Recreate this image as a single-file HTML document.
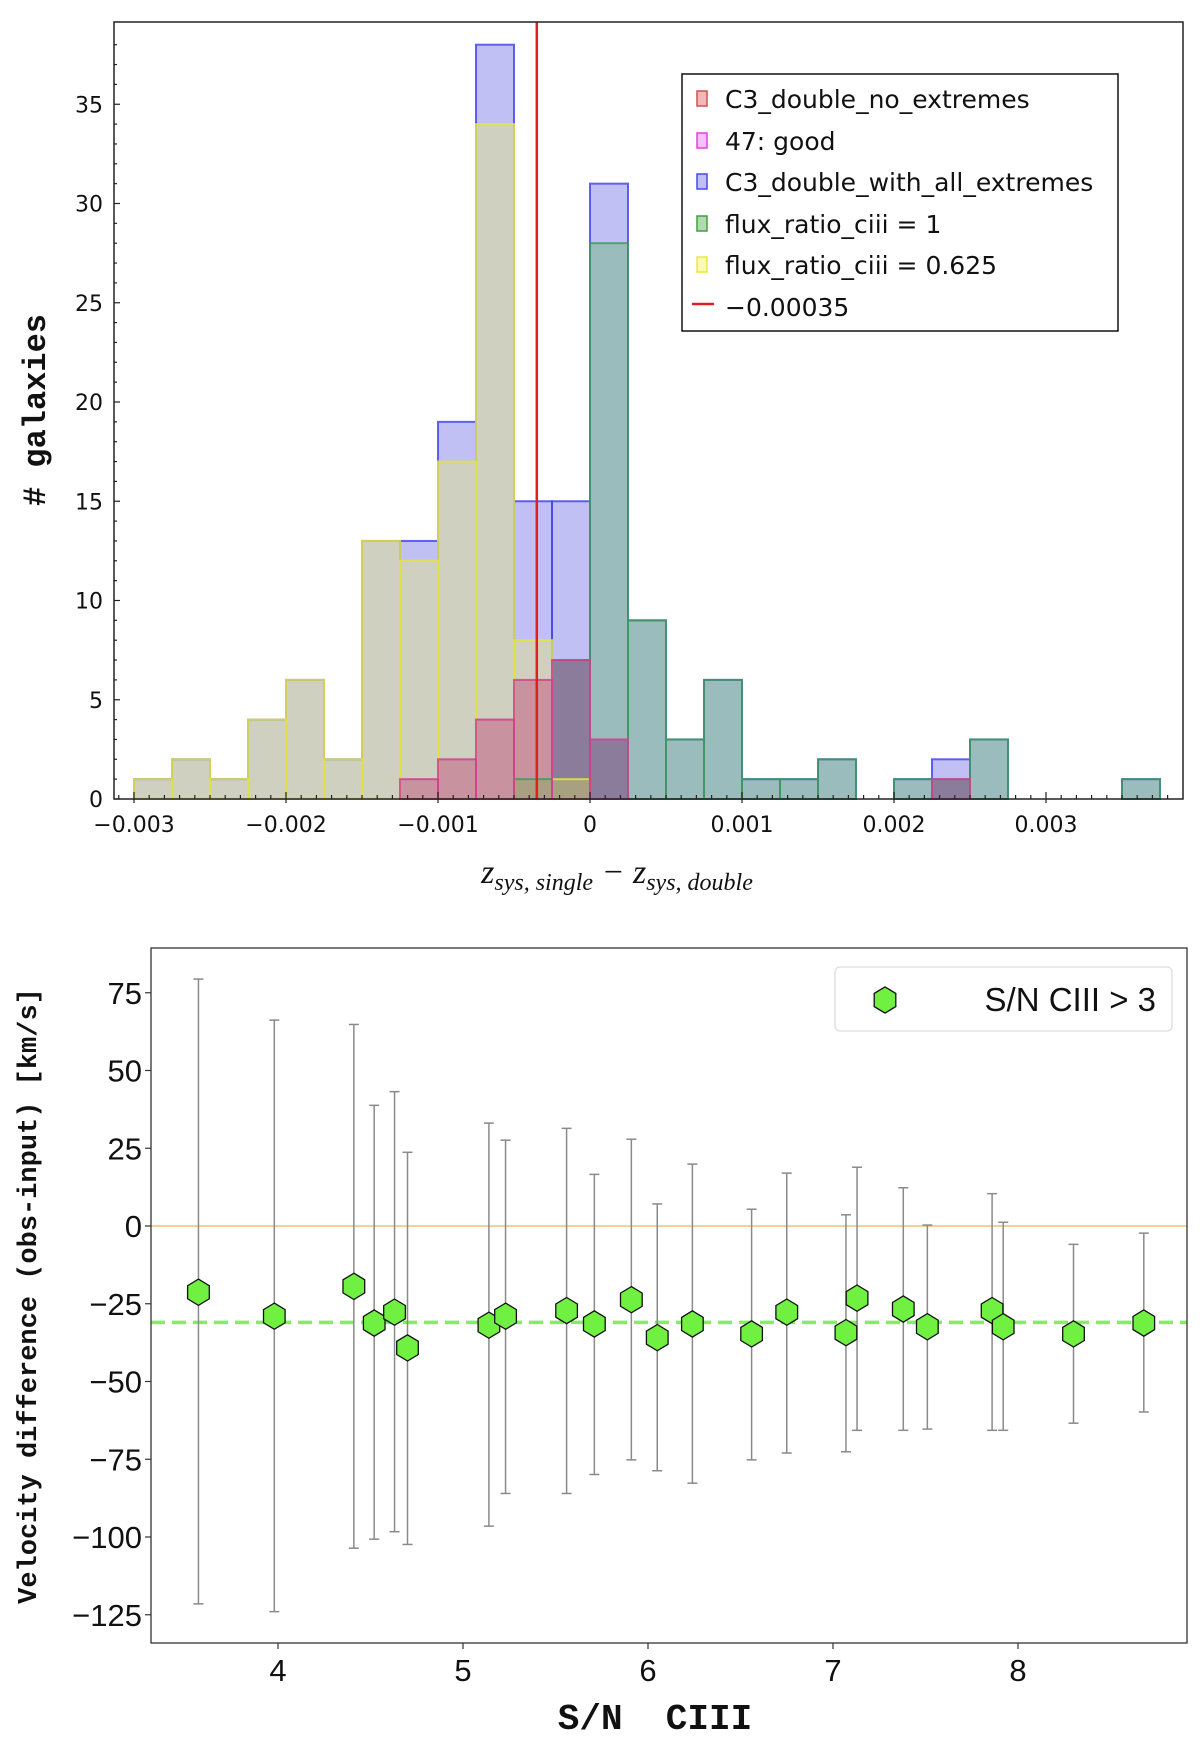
<!DOCTYPE html>
<html><head><meta charset="utf-8">
<style>
html,body{margin:0;padding:0;background:#fff;}
svg{display:block;}
</style></head>
<body>
<svg id="fig" width="1200" height="1740" viewBox="0 0 1200 1740" xmlns="http://www.w3.org/2000/svg">
<g id="topPanel"></g>
<g id="botPanel"></g>
</svg>
<script>
// ---------- Histogram data ----------
const binStart = -0.003;
const binWidth = 0.00025;
const countsAllExtremes = [1,2,1,4,6,2,13,13,19,38,15,15,31,9,3,6,1,1,2,0,1,2,3,0,0,0,1];
const countsFlux0625    = [1,2,1,4,6,2,13,12,17,34,8,1,0,0,0,0,0,0,0,0,0,0,0,0,0,0,0];
const countsFlux1       = [0,0,0,0,0,0,0,0,0,0,1,7,28,9,3,6,1,1,2,0,1,1,3,0,0,0,1];
const countsNoExtremes  = [0,0,0,0,0,0,0,1,2,4,6,7,3,0,0,0,0,0,0,0,0,1,0,0,0,0,0];
const histXTicks = [-0.003,-0.002,-0.001,0,0.001,0.002,0.003];
const histXTickLabels = ["\u22120.003","\u22120.002","\u22120.001","0","0.001","0.002","0.003"];
const histYTicks = [0,5,10,15,20,25,30,35];
const cutValue = -0.00035;
const legendLabels = ["C3_double_no_extremes","47: good","C3_double_with_all_extremes","flux_ratio_ciii = 1","flux_ratio_ciii = 0.625","\u22120.00035"];

// ---------- Scatter data ----------
const snr   = [3.57,3.98,4.41,4.52,4.63,4.70,5.14,5.23,5.56,5.71,5.91,6.05,6.24,6.56,6.75,7.07,7.13,7.38,7.51,7.86,7.92,8.30,8.68];
const vdiff = [-21.3,-29,-19.4,-31.2,-27.7,-39.2,-31.9,-29,-27.2,-31.5,-23.7,-35.9,-31.5,-34.7,-27.7,-34.3,-23.2,-26.7,-32.4,-27.2,-32.4,-34.7,-31.2];
const errHi = [79.4,66.2,64.8,38.8,43.2,23.7,33.1,27.6,31.4,16.6,27.9,7.1,19.9,5.4,17,3.6,18.9,12.3,0.3,10.4,1.2,-5.9,-2.3];
const errLo = [-121.5,-124,-103.6,-100.7,-98.3,-102.4,-96.5,-86,-86,-79.9,-75.2,-78.7,-82.7,-75.2,-73,-72.6,-65.7,-65.7,-65.3,-65.7,-65.7,-63.4,-59.8];
const meanV = -31;
const velYTicks = [-125,-100,-75,-50,-25,0,25,50,75];
const velXTicks = [4,5,6,7,8];

const NS="http://www.w3.org/2000/svg";
function mk(parent, tag, attrs, text){
  const e=document.createElementNS(NS,tag);
  for(const k in attrs) e.setAttribute(k,attrs[k]);
  if(text!==undefined) e.textContent=text;
  parent.appendChild(e); return e;
}
const SANS='"DejaVu Sans","Liberation Sans",sans-serif';

// ===== TOP PANEL =====
const topG=document.getElementById('topPanel');
const hx0=114,hx1=1183,hy0=22,hy1=799;
const hxs=v=>590+v*152000;
const hys=v=>799-v*19.85;

const nb=countsAllExtremes.length;
for(let i=0;i<nb;i++){
  const a=binStart+i*binWidth, b=a+binWidth;
  const B=countsAllExtremes[i],Y=countsFlux0625[i],G=countsFlux1[i],R=countsNoExtremes[i];
  const lv=[0,B,Y,G,R].filter((v,j,arr)=>arr.indexOf(v)===j).sort((p,q)=>p-q);
  for(let k=0;k<lv.length-1;k++){
    const lo=lv[k],hi=lv[k+1],m=(lo+hi)/2;
    const inB=m<B,inY=m<Y,inG=m<G,inR=m<R;
    let c=null;
    if(inG&&inY) c='#a99f81';
    else if(inR&&inG) c='#8b7c9c';
    else if(inR) c='#c8929f';
    else if(inG) c='#9bbcbc';
    else if(inY) c='#d0d0c0';
    else if(inB) c='#c0c0f5';
    if(!c) continue;
    const r=mk(topG,'rect',{x:hxs(a),y:hys(hi),width:hxs(b)-hxs(a),height:hys(lo)-hys(hi),fill:c});
    
    
  }
}
const outlineSets=[[countsAllExtremes,'#4848f0'],[countsFlux1,'#3f9a5f'],[countsFlux0625,'#e3e340'],[countsNoExtremes,'#d0408f']];
outlineSets.forEach(([arr,col])=>{
  for(let i=0;i<nb;i++){
    if(arr[i]<=0) continue;
    const a=binStart+i*binWidth,b=a+binWidth;
    const r=mk(topG,'rect',{x:hxs(a),y:hys(arr[i]),width:hxs(b)-hxs(a),height:hys(0)-hys(arr[i]),fill:'none',stroke:col,'stroke-width':2,'stroke-opacity':0.85});
    
    
  }
});
const cl=mk(topG,'line',{x1:hxs(cutValue),x2:hxs(cutValue),y1:hy0,y2:hy1,stroke:'#e02020','stroke-width':2.5});


const hf=mk(topG,'rect',{x:hx0,y:hy0,width:hx1-hx0,height:hy1-hy0,fill:'none',stroke:'#222','stroke-width':1.5});


for(let v=0;v<=38;v++){
  const major=v%5===0;
  mk(topG,'line',{x1:hx0,x2:hx0+(major?6:3),y1:hys(v),y2:hys(v),stroke:'#222','stroke-width':1.2});
}
histYTicks.forEach(v=>{
  const t=mk(topG,'text',{x:103,y:hys(v)+8,'text-anchor':'end','font-family':SANS,'font-size':22,fill:'#111'},String(v));
  
  
});
for(let k=-31;k<=38;k++){
  const v=k*0.0001,x=hxs(v);
  if(x<hx0||x>hx1) continue;
  const major=k%10===0;
  mk(topG,'line',{x1:x,x2:x,y1:hy1,y2:hy1-(major?7:4),stroke:'#222','stroke-width':1.2});
  if(major) mk(topG,'line',{x1:x,x2:x,y1:hy1,y2:hy1+4,stroke:'#222','stroke-width':1.2});
}
histXTicks.forEach((v,i)=>{
  const t=mk(topG,'text',{x:hxs(v),y:832,'text-anchor':'middle','font-family':SANS,'font-size':22,fill:'#111'},histXTickLabels[i]);
  
  
});
let t=mk(topG,'text',{x:0,y:0,transform:'translate(45,410) rotate(-90)','text-anchor':'middle','font-family':'"Liberation Mono",monospace','font-size':32,'font-weight':'bold',fill:'#111'},'# galaxies');


t=mk(topG,'text',{x:617,y:883,'text-anchor':'middle','font-family':'"Liberation Serif",serif','font-size':34,'font-style':'italic',fill:'#111'});


mk(t,'tspan',{},'z');
mk(t,'tspan',{'font-size':24,dy:7},'sys, single');
mk(t,'tspan',{dy:-7},' \u2212 z');
mk(t,'tspan',{'font-size':24,dy:7},'sys, double');
const lg=mk(topG,'g',{});


mk(lg,'rect',{x:682,y:74,width:436,height:257,fill:'#fff',stroke:'#111','stroke-width':1.5});
const legCols=[['#f0b8b8','#d05050'],['#f8c0f8','#e040e0'],['#c0c0f5','#4848f0'],['#b0dab0','#40a040'],['#fafab0','#e8e840']];
const legY=[108,150,191,233,274,316];
legendLabels.forEach((lab,i)=>{
  if(i<5) mk(lg,'rect',{x:697,y:legY[i]-17,width:10,height:15,fill:legCols[i][0],stroke:legCols[i][1],'stroke-width':1.5});
  else mk(lg,'line',{x1:692,x2:714,y1:legY[i]-12,y2:legY[i]-12,stroke:'#e02020','stroke-width':2.5});
  const tt=mk(lg,'text',{x:725,y:legY[i],'font-family':SANS,'font-size':25,fill:'#111'},lab);
  
  
});

// ===== BOTTOM PANEL =====
const botG=document.getElementById('botPanel');
const bx0=151,bx1=1187,by0=948,by1=1643;
const bxs=v=>278+(v-4)*185;
const bys=v=>1226-v*3.11;
let l=mk(botG,'line',{x1:bx0,x2:bx1,y1:bys(0),y2:bys(0),stroke:'#f5c070','stroke-width':1.5});


l=mk(botG,'line',{x1:bx0,x2:bx1,y1:bys(meanV),y2:bys(meanV),stroke:'#80f060','stroke-width':3.5,'stroke-dasharray':'14,7'});


snr.forEach((x,i)=>{
  const g=mk(botG,'g',{stroke:'#8a8a8a','stroke-width':1.5});
  
  
  const px=bxs(x);
  mk(g,'line',{x1:px,x2:px,y1:bys(errHi[i]),y2:bys(errLo[i])});
  mk(g,'line',{x1:px-5,x2:px+5,y1:bys(errHi[i]),y2:bys(errHi[i])});
  mk(g,'line',{x1:px-5,x2:px+5,y1:bys(errLo[i]),y2:bys(errLo[i])});
});
function hexPts(cx,cy,r){
  let p=[];for(let k=0;k<6;k++){const a=Math.PI/180*(60*k-90);p.push((cx+r*Math.cos(a)).toFixed(1)+','+(cy+r*1.05*Math.sin(a)).toFixed(1));}
  return p.join(' ');
}
snr.forEach((x,i)=>{
  const h=mk(botG,'polygon',{points:hexPts(bxs(x),bys(vdiff[i]),12.5),fill:'#70f040',stroke:'#111','stroke-width':1.3});
  
  
});
const bf=mk(botG,'rect',{x:bx0,y:by0,width:bx1-bx0,height:by1-by0,fill:'none',stroke:'#333','stroke-width':1.3});


velYTicks.forEach(v=>{
  mk(botG,'line',{x1:bx0-6,x2:bx0,y1:bys(v),y2:bys(v),stroke:'#333','stroke-width':1.2});
  const tt=mk(botG,'text',{x:142,y:bys(v)+11,'text-anchor':'end','font-family':'"Liberation Sans Narrow","Liberation Sans",sans-serif','font-size':31,fill:'#111'},v<0?'\u2212'+(-v):String(v));
  
  
});
velXTicks.forEach(v=>{
  mk(botG,'line',{x1:bxs(v),x2:bxs(v),y1:by1,y2:by1+6,stroke:'#333','stroke-width':1.2});
  const tt=mk(botG,'text',{x:bxs(v),y:1681,'text-anchor':'middle','font-family':'"Liberation Sans Narrow","Liberation Sans",sans-serif','font-size':31,fill:'#111'},String(v));
  
  
});
t=mk(botG,'text',{x:0,y:0,transform:'translate(36,1296) rotate(-90)','text-anchor':'middle','font-family':'"Liberation Mono",monospace','font-size':27,'font-weight':'bold',fill:'#111'},'Velocity difference (obs-input) [km/s]');


t=mk(botG,'text',{x:655,y:1729,'text-anchor':'middle','font-family':'"Liberation Mono",monospace','font-size':36,'font-weight':'bold',fill:'#111',style:'white-space:pre'},'S/N  CIII');


const lg2=mk(botG,'g',{});


mk(lg2,'rect',{x:835,y:967,width:337,height:64,rx:5,fill:'#fff',stroke:'#ddd','stroke-width':1.3});
mk(lg2,'polygon',{points:hexPts(885,1000,12.5),fill:'#70f040',stroke:'#111','stroke-width':1.3});
t=mk(lg2,'text',{x:1156,y:1011,'text-anchor':'end','font-family':'"Liberation Sans Narrow","Liberation Sans",sans-serif','font-size':33,fill:'#111'},'S/N CIII > 3');


</script>
</body></html>
